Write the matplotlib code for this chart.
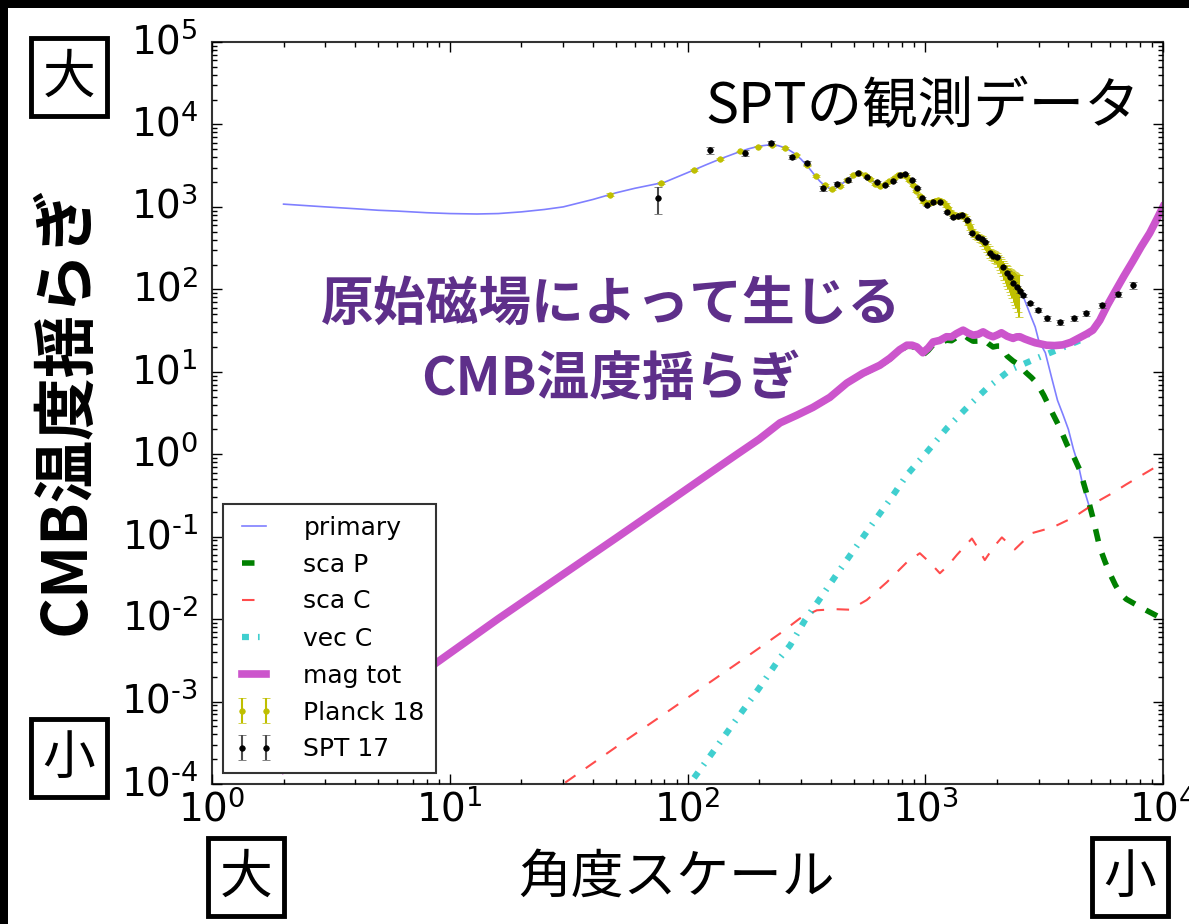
import numpy as np
import matplotlib
matplotlib.use("Agg")
import matplotlib.pyplot as plt
from matplotlib.patches import Rectangle
from matplotlib.ticker import FuncFormatter, LogLocator

# ---------------------------------------------------------------- data
# primary CMB TT spectrum D_l [uK^2]
l_primary = [2, 3, 4, 5, 6, 8, 10, 13, 16, 20, 25, 30, 40, 50, 60, 80, 100, 120, 140,
             160, 180, 200, 220, 240, 260, 280, 300, 320, 340, 360, 380, 400, 420, 440,
             460, 480, 500, 520, 540, 560, 580, 600, 620, 640, 660, 680, 700, 720, 740,
             760, 780, 800, 820, 840, 860, 880, 900, 920, 940, 960, 980, 1000, 1050,
             1100, 1150, 1200, 1250, 1300, 1350, 1400, 1450, 1500, 1550, 1600, 1650,
             1700, 1750, 1800, 1900, 2000, 2100, 2200, 2300, 2400, 2500, 2600, 2700,
             2800, 2900, 3000, 3200, 3400, 3600, 3800, 4000, 4200, 4400, 4600, 4800, 5000]
dl_primary = [1080, 1000, 950, 910, 890, 850, 830, 820, 830, 870, 930, 1000, 1230, 1480,
              1680, 1990, 2600, 3250, 3900, 4500, 5050, 5450, 5650, 5550, 5150, 4500,
              3800, 3100, 2500, 2050, 1780, 1650, 1680, 1830, 2050, 2280, 2450, 2560,
              2560, 2450, 2250, 2050, 1900, 1820, 1810, 1880, 2000, 2150, 2280, 2380,
              2440, 2450, 2400, 2280, 2100, 1900, 1700, 1520, 1370, 1250, 1160, 1110,
              1120, 1190, 1200, 1110, 950, 820, 780, 790, 780, 700, 560, 480, 440, 420,
              390, 340, 270, 240, 195, 160, 135, 115, 98, 78, 59, 45, 35, 24, 17, 8.5,
              4.5, 3.0, 2.0, 1.15, 0.75, 0.42, 0.28, 0.19]

# scalar passive mode
l_scaP = [2, 5, 9, 16, 30, 50, 80, 113, 160, 200, 245, 288, 337, 397, 468, 547, 644,
          710, 780, 837, 880, 922, 977, 1030, 1079, 1150, 1228, 1290, 1352, 1443, 1515,
          1589, 1670, 1751, 1840, 1928, 2010, 2092, 2210, 2342, 2500, 2650, 2800, 2945,
          3150, 3400, 3680, 3950, 4200, 4470, 4750, 5070, 5420, 5700, 5970, 6300, 6580,
          7000, 7760, 8500, 9700, 10000]
dl_scaP = [1.5e-4, 9.5e-4, 0.0031, 0.0101, 0.035, 0.096, 0.245, 0.49, 0.98, 1.52, 2.4,
           2.96, 3.68, 4.85, 7.25, 9.5, 11.8, 14.3, 18.0, 20.4, 20.3, 19.2, 16.0, 18.2,
           21.3, 22.0, 24.2, 23.8, 26.0, 28.5, 25.5, 23.5, 23.6, 25.0, 22.0, 20.0, 20.5,
           20.5, 15.5, 13.5, 12.0, 9.8, 8.5, 7.3, 5.2, 3.3, 2.1, 1.3, 0.95, 0.64, 0.35,
           0.17, 0.074, 0.05, 0.036, 0.026, 0.021, 0.0175, 0.0148, 0.0128, 0.0105, 0.0100]

# scalar compensated mode
l_scaC = [2, 10, 30, 50, 80, 120, 170, 245, 297, 350, 420, 482, 567, 689, 837, 949, 1050,
          1152, 1250, 1358, 1571, 1680, 1780, 1940, 2100, 2380, 2800, 3440, 4180, 5420,
          6150, 7000, 8000, 9000, 10000]
dl_scaC = [4.5e-7, 1.1e-5, 1.0e-4, 2.8e-4, 7.1e-4, 1.6e-3, 3.2e-3, 6.7e-3, 0.0102, 0.0128,
           0.0132, 0.013, 0.017, 0.028, 0.049, 0.063, 0.048, 0.036, 0.045, 0.06, 0.095,
           0.07, 0.052, 0.075, 0.098, 0.07, 0.11, 0.13, 0.17, 0.277, 0.34, 0.43, 0.54,
           0.66, 0.82]

# vector compensated mode
l_vecC = [50, 80, 102, 130, 160, 200, 245, 270, 312, 367, 430, 510, 602, 710, 837, 1015,
          1233, 1500, 1815, 2270, 2945, 3570, 4470, 5070, 5420, 5850, 6300, 6850, 7470,
          8100, 8790, 9400, 10000]
dl_vecC = [5.8e-6, 3.8e-5, 1.0e-4, 2.6e-4, 6.0e-4, 1.45e-3, 3.4e-3, 4.8e-3, 9.7e-3, 0.019,
           0.037, 0.074, 0.146, 0.28, 0.56, 1.06, 2.07, 3.7, 6.3, 10.5, 14.6, 18.3, 24.0,
           31.5, 41.5, 64.5, 94.5, 144, 219, 329, 479, 699, 998]

# total magnetic contribution
l_mag = [2, 5, 9, 16, 30, 50, 80, 113, 160, 200, 245, 288, 337, 397, 468, 547, 644, 710,
         780, 837, 880, 922, 977, 1030, 1079, 1150, 1228, 1290, 1352, 1443, 1515, 1589,
         1670, 1751, 1840, 1928, 2010, 2092, 2210, 2342, 2420, 2500, 2620, 2754, 2900,
         3050, 3240, 3500, 3790, 4100, 4470, 4800, 5070, 5420, 5850, 6300, 6850, 7470,
         8100, 8790, 9400, 10000]
dl_mag = [1.5e-4, 9.5e-4, 0.0031, 0.0101, 0.035, 0.096, 0.245, 0.49, 0.98, 1.52, 2.4,
          2.97, 3.7, 4.9, 7.3, 9.6, 12.0, 14.6, 18.5, 21.0, 21.0, 20.0, 17.0, 19.5, 23.0,
          24.0, 26.6, 26.5, 29.0, 32.0, 29.5, 27.8, 28.5, 30.5, 28.0, 26.6, 28.0, 29.7,
          27.0, 25.4, 26.5, 26.6, 25.0, 23.7, 22.5, 21.8, 21.0, 20.8, 21.2, 22.8, 26.0,
          29.0, 32.0, 42.0, 65.0, 95.0, 145.0, 220.0, 330.0, 480.0, 700.0, 1000.0]

# Planck 2018 binned band powers
l_planck = [47, 77, 107, 137, 167, 197, 227, 257, 287, 317, 347, 377, 407, 437, 467, 497,
            527, 557, 587, 617, 647, 677, 707, 737, 767, 797, 827, 857, 887, 917, 947,
            977, 1007, 1037, 1067, 1097, 1127, 1157, 1187, 1217, 1247, 1277, 1307, 1337,
            1367, 1397, 1427, 1457, 1487, 1517, 1547, 1577, 1607, 1637, 1667, 1697, 1727,
            1757, 1787, 1817, 1847, 1877, 1907, 1937, 1967, 1997, 2027, 2057, 2087, 2117,
            2147, 2177, 2207, 2237, 2267, 2297, 2327, 2357, 2387, 2417, 2447, 2477]
dl_planck = [1410, 1950, 2820, 3800, 4700, 5400, 5650, 5200, 4300, 3200, 2350, 1820, 1640,
             1800, 2130, 2430, 2570, 2470, 2180, 1920, 1810, 1870, 2050, 2260, 2410, 2450,
             2380, 2120, 1830, 1550, 1350, 1170, 1110, 1115, 1150, 1190, 1210, 1190, 1140,
             1060, 960, 870, 810, 785, 780, 790, 790, 770, 720, 640, 570, 505, 475, 450,
             435, 420, 400, 380, 350, 320, 295, 275, 265, 255, 248, 240, 225, 210, 195,
             182, 170, 160, 150, 142, 135, 128, 122, 116, 111, 106, 102, 98]
err_planck = [45, 55, 70, 85, 100, 110, 110, 100, 85, 70, 60, 50, 45, 50, 55, 60, 65, 65,
              60, 55, 55, 55, 60, 65, 70, 70, 70, 65, 60, 55, 50, 48, 48, 50, 52, 55, 56,
              56, 55, 53, 50, 47, 45, 45, 46, 47, 48, 48, 47, 45, 43, 41, 40, 40, 40, 40,
              40, 40, 39, 38, 37, 36, 36, 36, 37, 38, 38, 38, 38, 38, 39, 40, 40, 41, 42,
              43, 44, 45, 46, 47, 49, 52]

# SPT 2017 band powers
l_spt = [75, 124, 174, 224, 275, 318, 371, 425, 473, 521, 568, 626, 676, 731, 782, 820,
         878, 922, 968, 1017, 1077, 1152, 1233, 1306, 1372, 1425, 1496, 1571, 1664, 1726,
         1782, 1870, 1935, 2000, 2120, 2200, 2270, 2350, 2430, 2500, 2570, 2755, 2975,
         3245, 3680, 4215, 4730, 5530, 6460, 7470]
dl_spt = [1280, 4890, 4500, 5940, 4020, 3400, 1690, 1890, 2110, 2570, 2300, 2000, 1840,
          2060, 2430, 2500, 2110, 1690, 1280, 1050, 1140, 1140, 865, 752, 780, 795, 690,
          481, 430, 410, 380, 275, 255, 245, 186, 160, 141, 120, 106, 95, 85, 68, 56, 44.7,
          40, 44.7, 51, 64, 87, 112]
err_spt = [450, 500, 350, 350, 250, 200, 120, 110, 100, 100, 90, 80, 70, 70, 75, 75, 65,
           55, 45, 35, 35, 32, 25, 22, 20, 20, 18, 14, 12, 11, 10, 8, 7, 7, 6, 5, 5, 4, 4,
           4, 4, 3, 3, 3, 3, 3, 4, 5, 7, 10]

# ---------------------------------------------------------------- style
plt.style.use("classic")
plt.rcParams["lines.scale_dashes"] = False
plt.rcParams["mathtext.fontset"] = "dejavusans"
plt.rcParams["axes.unicode_minus"] = False
plt.rcParams["font.family"] = ["DejaVu Sans"]
JP = ["Noto Sans CJK JP", "DejaVu Sans"]
PURPLE = "#5e2f8a"

W, H = 1189, 924
fig = plt.figure(figsize=(W / 100, H / 100), dpi=100, facecolor="black")
fig.patches.append(Rectangle((8 / W, 0), 1 - 8 / W, 1 - 8 / H, transform=fig.transFigure,
                             facecolor="white", edgecolor="none", zorder=-10))

ax = fig.add_axes([212 / W, 1 - 784 / H, (1163 - 212) / W, (784 - 42) / H])

ax.plot(l_primary, dl_primary, color="b", alpha=0.5, lw=1.2, label="primary")
ax.plot(l_scaP, dl_scaP, color="g", lw=4, dashes=(9, 9), label="sca P")
ax.plot(l_scaC, dl_scaC, color="r", alpha=0.7, lw=1.5, dashes=(9, 9), label="sca C")
ax.plot(l_vecC, dl_vecC, color="c", alpha=0.75, lw=4.5, dashes=(5, 6.5, 1.2, 6.5),
        label="vec C")
ax.plot(l_mag, dl_mag, color="#cc55cc", lw=5.5, label="mag tot")
ax.errorbar(l_planck, dl_planck, yerr=err_planck, fmt=".", color="y", ms=8, capsize=3,
            elinewidth=1.5, label="Planck 18")
ax.errorbar(l_spt, dl_spt, yerr=err_spt, fmt=".", color="k", ecolor="0.3", ms=8,
            capsize=3, elinewidth=1.5, label="SPT 17")

ax.set_xscale("log")
ax.set_yscale("log")
ax.set_xlim(1, 1e4)
ax.set_ylim(1e-4, 1e5)


def decade(v, pos):
    k = int(round(np.log10(v)))
    return r"$10^{\text{%d}}$" % k


fmt = FuncFormatter(decade)
ax.xaxis.set_major_formatter(fmt)
ax.yaxis.set_major_formatter(fmt)
ax.xaxis.set_major_locator(LogLocator(base=10, numticks=10))
ax.yaxis.set_major_locator(LogLocator(base=10, numticks=12))
ax.tick_params(which="major", direction="in", length=7, width=1, labelsize=28,
               top=True, right=True)
ax.tick_params(which="minor", direction="in", length=3.5, width=1, top=True, right=True)
ax.tick_params(axis="y", pad=10)
ax.tick_params(axis="x", pad=4)
for s in ax.spines.values():
    s.set_linewidth(1.5)
    s.set_edgecolor("0.2")

leg = ax.legend(loc="lower left", fontsize=18, handlelength=1.55, handletextpad=1.2,
                borderpad=0.45, labelspacing=0.52, borderaxespad=0.45, numpoints=2,
                fancybox=False)
leg.get_frame().set_edgecolor("0.2")
leg.get_frame().set_linewidth(1.5)


def ftext(x, y, s, **kw):
    return fig.text(x / W, 1 - y / H, s, **kw)


ftext(705, 107, "SPTの観測データ", fontsize=40, family=JP, ha="left", va="center")
ftext(611, 305, "原始磁場によって生じる", fontsize=38, family=JP, weight="bold",
      color=PURPLE, ha="center", va="center")
ftext(611, 380, "CMB温度揺らぎ", fontsize=38, family=JP, weight="bold",
      color=PURPLE, ha="center", va="center")
ftext(66, 410, "CMB温度揺らぎ", fontsize=45, family=JP, weight="bold", rotation=90,
      ha="center", va="center")
ftext(676, 877, "角度スケール", fontsize=38, family=JP, ha="center", va="center")

box = dict(boxstyle="square,pad=0.22", fc="white", ec="black", lw=3.5)
for cx, cy, s in [(69, 77, "大"), (69, 758, "小"), (246, 877, "大"), (1130, 877, "小")]:
    ftext(cx, cy, s, fontsize=38, family=JP, ha="center", va="center", bbox=box)

fig.savefig("out.png", dpi=100, facecolor=fig.get_facecolor())
